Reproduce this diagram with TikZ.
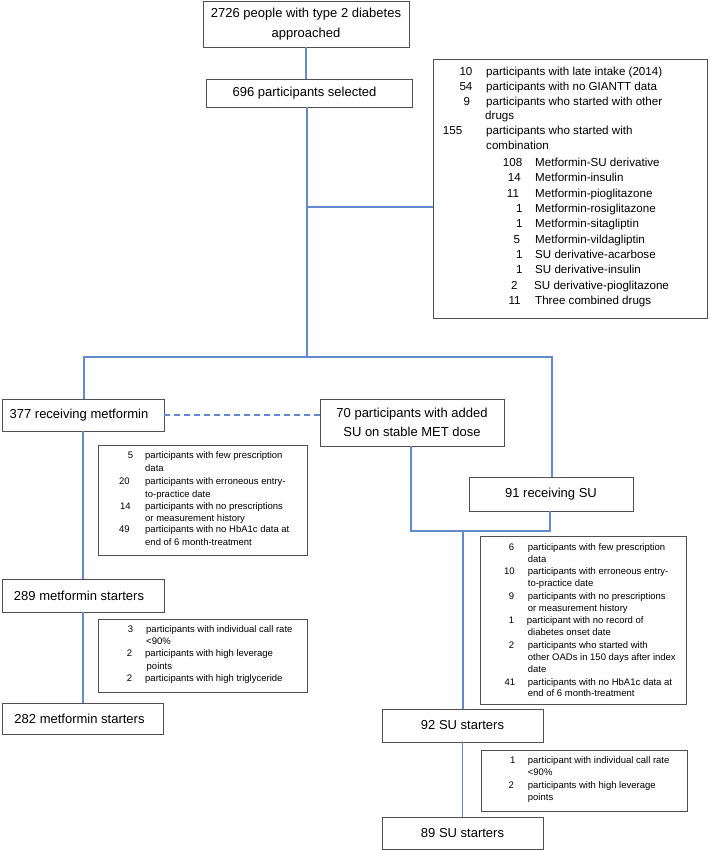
\documentclass[tikz,border=0pt]{standalone}
\usepackage{fontspec}
\setmainfont{Liberation Sans}
\definecolor{lnblue}{RGB}{98,138,204}
\definecolor{bxgray}{RGB}{80,80,80}
\newcommand\fsMain{\fontsize{13}{19.5}\selectfont}
\newcommand\fsR{\fontsize{11.6}{15}\selectfont}
\newcommand\fsS{\fontsize{9.5}{12}\selectfont}
\newcommand\txtrows[3]{\foreach \ry/\rx/\rt [count=\ri] in {#3}{\node[#2] (#1\ri) at (\rx,\ry) {\rt};}}
\begin{document}
\begin{tikzpicture}[x=1pt,y=-1pt,
  box/.style={draw=bxgray, line width=0.9pt, inner sep=0pt, font=\fsMain},
  exbox/.style={draw=bxgray, line width=0.9pt, inner sep=0pt},
  conn/.style={draw=lnblue, line width=1.3pt},
  rtxt/.style={anchor=base west, inner sep=0pt, yshift=-3.5pt, font=\fsR},
  stxt/.style={anchor=base west, inner sep=0pt, yshift=-2.9pt, font=\fsS}]
\fill[white] (0,0) rectangle (709,850);
\useasboundingbox (0,0) rectangle (709,850);

% main boxes
\node[box, align=center, minimum width=206pt, minimum height=46pt] (top) at (306,24) {2726 people with type 2 diabetes\\approached};
\node[box, minimum width=206pt, minimum height=28pt] (b696) at (309,93) {696 participants selected\hspace*{9pt}};
\node[box, minimum width=162pt, minimum height=32pt] (m377) at (83,415) {377 receiving metformin\hspace*{8pt}};
\node[box, align=center, minimum width=184pt, minimum height=47pt] (s70) at (412,422.5) {70 participants with added\\SU on stable MET dose};
\node[box, minimum width=164pt, minimum height=34pt] (su91) at (551,494) {91 receiving SU};
\node[box, minimum width=162pt, minimum height=33pt] (m289) at (83,595.5) {289 metformin starters\hspace*{8pt}};
\node[box, minimum width=161pt, minimum height=31pt] (m282) at (82.5,718.5) {282 metformin starters\hspace*{6pt}};
\node[box, minimum width=161pt, minimum height=33pt] (su92) at (462.5,725.5) {92 SU starters};
\node[box, minimum width=161pt, minimum height=32pt] (su89) at (462.5,833) {89 SU starters};

% exclusion boxes
\node[exbox, minimum width=274pt, minimum height=259pt] (R1) at (570,188.5) {};
\node[exbox, minimum width=209pt, minimum height=110pt] (E1) at (202.5,500) {};
\node[exbox, minimum width=209pt, minimum height=73pt] (E2) at (202.5,655.5) {};
\node[exbox, minimum width=206pt, minimum height=168pt] (E3) at (583,620) {};
\node[exbox, minimum width=206pt, minimum height=61pt] (E4) at (584,780.5) {};

% R1 contents
\txtrows{rn}{rtxt}{72/459.3/10, 87/459.3/54, 102/463.3/9, 131/442.7/155, 163/502.7/108, 178/507.7/14, 194/506.7/11, 209/516/1, 224/516/1, 240/513.3/5, 255/516/1, 270/516/1, 286/511/2, 301/508.3/11}
\txtrows{rt}{rtxt}{72/486/participants with late intake (2014), 87/486/participants with no GIANTT data, 102/486/participants who started with other, 116/485/drugs, 131/486/participants who started with, 146/486/combination, 163/535/Metformin-SU derivative, 178/535/Metformin-insulin, 194/535/Metformin-pioglitazone, 209/535/Metformin-rosiglitazone, 224/535/Metformin-sitagliptin, 240/535/Metformin-vildagliptin, 255/535/SU derivative-acarbose, 270/535/SU derivative-insulin, 286/534/SU derivative-pioglitazone, 301/535/Three combined drugs}

% E1
\txtrows{an}{stxt}{456/127.7/5, 482/119/20, 507/120/14, 530/119/49}
\txtrows{at}{stxt}{456/145/participants with few prescription, 469/145/data, 482/145/participants with erroneous entry-, 495/145/to-practice date, 507/145/participants with no prescriptions, 519/145/or measurement history, 530/145/participants with no HbA1c data at, 543/145/end of 6 month-treatment}

% E2
\txtrows{bn}{stxt}{630/127.7/3, 654/126.7/2, 679/126.7/2}
\txtrows{bt}{stxt}{630/146/participants with individual call rate, 642/146/<90\%, 654/145/participants with high leverage, 667/146.5/points, 679/145/participants with high triglyceride}

% E3
\txtrows{cn}{stxt}{548/508.7/6, 572/504/10, 597/508.7/9, 621/508.7/1, 646/508.7/2, 683/504.3/41}
\txtrows{ct}{stxt}{548/527.7/participants with few prescription, 560/527.7/data, 572/527.7/participants with erroneous entry-, 584/527.7/to-practice date, 597/527.7/participants with no prescriptions, 609/527.7/or measurement history, 621/526.7/participant with no record of, 633/527.7/diabetes onset date, 646/527.7/participants who started with, 658/527.7/other OADs in 150 days after index, 670/527.7/date, 683/527.7/participants with no HbA1c data at, 694/527.7/end of 6 month-treatment}

% E4
\txtrows{dn}{stxt}{761/510/1, 786/508.3/2}
\txtrows{dt}{stxt}{761/527.7/participant with individual call rate, 773/527.7/<90\%, 786/527.7/participants with high leverage, 798/527.7/points}

% connectors
\coordinate (br1) at (307,207);
\coordinate (split) at (307,357);
\coordinate (hl) at (84,357);
\coordinate (hr) at (552,357);
\coordinate (j70) at (411,531);
\coordinate (j91) at (550,531);
\coordinate (jn) at (463,531);

\draw[conn] (top.south) -- (top.south |- b696.north);
\draw[conn] (b696.south -| split) -- (split);
\draw[conn] (br1) -- (br1 -| R1.west);
\draw[conn] (m377.north -| hl) -- (hl) -- (hr) -- (hr |- su91.north);
\draw[conn, line width=1.3pt, dash pattern=on 6pt off 4pt] (m377.east) -- (m377.east -| s70.west);
\draw[conn] (m377.south) -- (m377.south |- m289.north);
\draw[conn] (m289.south) -- (m289.south |- m282.north);
\draw[conn] (s70.south -| j70) -- (j70) -- (j91) -- (su91.south -| j91);
\draw[conn] (jn) -- (jn |- su92.north);
\draw[conn] (su92.south) -- (su89.north);
\end{tikzpicture}
\end{document}
